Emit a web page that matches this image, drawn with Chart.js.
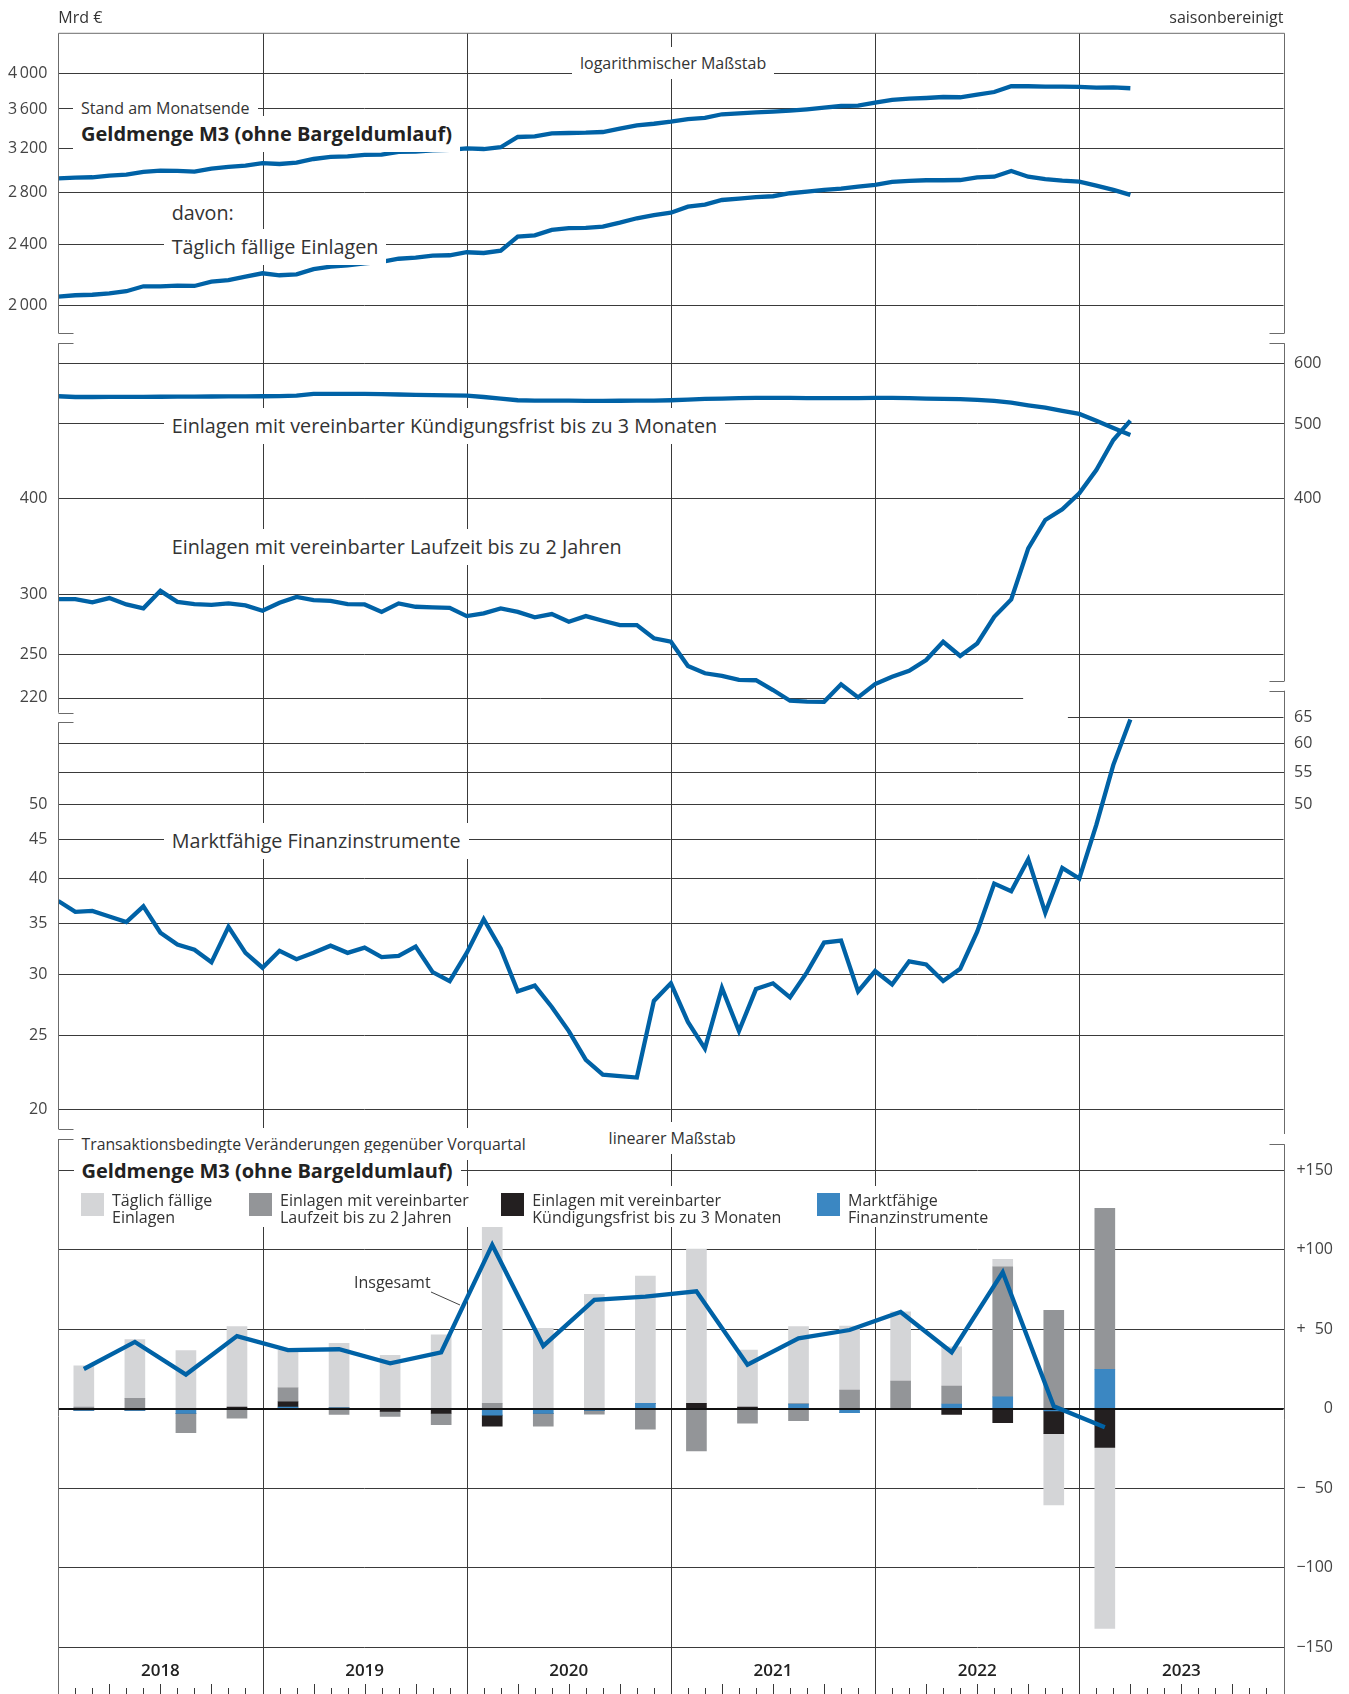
<!DOCTYPE html>
<html lang="de">
<head>
<meta charset="utf-8">
<title>Geldmenge M3 und Komponenten</title>
<script src="https://cdn.jsdelivr.net/npm/chart.js@4.4.1/dist/chart.umd.min.js"></script>
<style>
  html, body { margin: 0; background: #fff; }
  body { font-family: "Open Sans", "DejaVu Sans", sans-serif; color: #333; }
  #page { position: relative; width: 1349px; height: 1694px; overflow: hidden; }
  .panel { position: absolute; left: 0; }
  .note { position: absolute; font-size: 16px; line-height: 32px; padding: 0 8px;
          background: #fff; white-space: nowrap; transform: translateY(-50%); }
  .small { font-size: 15.8px; }
  .big { font-size: 19.75px; line-height: 36px; }
  .title { font-size: 20px; font-weight: bold; line-height: 36px; color: #222; }
  .plain { background: none; padding: 0; }
  .key { position: absolute; top: 1185.75px; display: flex; background: #fff; padding: 6px 8px 0 0;
         font-size: 16px; line-height: 17.5px; white-space: nowrap; }
  .key i { display: block; width: 23px; height: 23px; margin: 1.5px 8px 0 0; flex: none; }
</style>
</head>
<body>
<div id="page">
  <div class="panel" style="top:0px"><canvas id="c1" width="1349" height="338"></canvas></div>
  <div class="panel" style="top:338px"><canvas id="c2" width="1349" height="380"></canvas></div>
  <div class="panel" style="top:686px"><canvas id="c3" width="1349" height="448"></canvas></div>
  <div class="panel" style="top:1134px"><canvas id="c4" width="1349" height="560"></canvas></div>

  <!-- Beschriftungen -->
  <div class="note plain" style="left:58.3px;top:16.5px">Mrd €</div>
  <div class="note plain" style="right:65.5px;top:16.5px">saisonbereinigt</div>
  <div class="note" style="left:572px;top:63.3px">logarithmischer Maßstab</div>
  <div class="note" style="left:73px;top:108.3px">Stand am Monatsende</div>
  <div class="note title" style="left:73px;top:134px">Geldmenge M3 (ohne Bargeldumlauf)</div>
  <div class="note big" style="left:163.7px;top:213.3px">davon:</div>
  <div class="note big" style="left:163.7px;top:246.7px">Täglich fällige Einlagen</div>
  <div class="note big" style="left:163.7px;top:426px">Einlagen mit vereinbarter Kündigungsfrist bis zu 3 Monaten</div>
  <div class="note big" style="left:163.7px;top:546.7px">Einlagen mit vereinbarter Laufzeit bis zu 2 Jahren</div>
  <div class="note big" style="left:163.7px;top:840.7px">Marktfähige Finanzinstrumente</div>
  <div class="note small" style="left:73.5px;top:1144px">Transaktionsbedingte Veränderungen gegenüber Vorquartal</div>
  <div class="note" style="left:600.6px;top:1138.3px">linearer Maßstab</div>
  <div class="note title" style="left:73.5px;top:1170.7px">Geldmenge M3 (ohne Bargeldumlauf)</div>
  <div class="key" style="left:81px"><i style="background:#d4d5d7"></i><span>Täglich fällige<br>Einlagen</span></div>
  <div class="key" style="left:249px"><i style="background:#939598"></i><span>Einlagen mit vereinbarter<br>Laufzeit bis zu 2 Jahren</span></div>
  <div class="key" style="left:501.3px"><i style="background:#231f20"></i><span>Einlagen mit vereinbarter<br>Kündigungsfrist bis zu 3 Monaten</span></div>
  <div class="key" style="left:817px"><i style="background:#3b87c2"></i><span>Marktfähige<br>Finanzinstrumente</span></div>
  <div class="note plain" style="left:354px;top:1281.7px">Insgesamt</div>
</div>

<script>
"use strict";

// ── Data (Mrd €) ───────────────────────────────────────────────────────────
const years = ["2018", "2019", "2020", "2021", "2022", "2023"];

// month-end stocks, Dec 2017 … Mar 2023 (64 values, x = months since end 2017)
const m3 = [2925, 2931, 2934, 2948, 2957, 2981, 2993, 2990, 2984, 3011, 3026, 3038,
  3060, 3053, 3065, 3099, 3118, 3124, 3137, 3139, 3165, 3168, 3181, 3184,
  3200, 3193, 3210, 3310, 3317, 3347, 3350, 3353, 3360, 3393, 3428, 3444,
  3465, 3493, 3504, 3543, 3553, 3564, 3571, 3581, 3596, 3614, 3632, 3635,
  3668, 3698, 3712, 3720, 3731, 3728, 3757, 3787, 3853, 3853, 3848, 3848,
  3845, 3837, 3841, 3830];
const overnight = [2052, 2061, 2064, 2073, 2086, 2117, 2117, 2121, 2119, 2146, 2157, 2179,
  2201, 2188, 2194, 2228, 2245, 2254, 2268, 2277, 2299, 2306, 2320, 2323,
  2344, 2339, 2355, 2456, 2466, 2506, 2519, 2521, 2531, 2561, 2595, 2619,
  2639, 2687, 2703, 2741, 2752, 2764, 2772, 2797, 2810, 2825, 2836, 2853,
  2867, 2893, 2902, 2908, 2908, 2910, 2934, 2939, 2990, 2939, 2917, 2904,
  2896, 2861, 2825, 2783];
const notice = [543.4, 542.2, 542.2, 542.4, 542.5, 542.5, 542.6, 542.7, 542.8, 543.0, 543.2, 543.3,
  543.4, 543.6, 544.4, 547.2, 547.3, 547.3, 547.2, 546.8, 546.3, 545.8, 545.3, 544.8,
  544.5, 542.2, 539.5, 536.9, 536.3, 536.3, 536.3, 535.8, 535.8, 536.1, 536.3, 536.3,
  536.9, 537.9, 539.0, 539.5, 540.2, 540.7, 540.7, 540.7, 540.2, 540.2, 540.2, 540.2,
  540.7, 540.7, 540.2, 539.5, 539.0, 538.6, 537.4, 535.8, 533.0, 528.9, 525.1, 519.9,
  515.3, 505.0, 494.0, 483.7];
const timeDep = [295.6, 295.6, 292.7, 296.5, 290.9, 287.5, 303.0, 293.2, 291.2, 290.6, 291.8, 290.1,
  285.4, 292.3, 297.6, 294.7, 294.1, 291.2, 290.9, 284.5, 291.8, 288.9, 288.4, 288.0,
  280.9, 283.2, 287.5, 284.5, 279.8, 282.6, 276.2, 280.9, 277.0, 273.4, 273.4, 262.8,
  260.1, 241.8, 236.6, 234.7, 231.9, 231.7, 225.0, 217.9, 217.3, 217.2, 228.9, 220.1,
  229.1, 234.2, 238.4, 246.2, 260.1, 249.2, 258.8, 280.3, 295.3, 344.3, 374.8, 387.0,
  406.0, 435.4, 476.5, 505.0];
const marketable = [37.4, 36.2, 36.3, 35.7, 35.1, 36.8, 34.0, 32.8, 32.3, 31.1, 34.6, 32.0,
  30.6, 32.2, 31.4, 32.0, 32.7, 32.0, 32.5, 31.6, 31.7, 32.6, 30.2, 29.4,
  32.0, 35.4, 32.4, 28.5, 29.0, 27.2, 25.3, 23.2, 22.2, 22.1, 22.0, 27.7,
  29.2, 26.0, 24.0, 28.8, 25.3, 28.7, 29.2, 28.0, 30.2, 33.0, 33.2, 28.5,
  30.3, 29.1, 31.2, 30.9, 29.4, 30.5, 34.1, 39.4, 38.5, 42.4, 36.1, 41.3,
  40.0, 47.0, 56.3, 64.5];

// transaction-based changes vs. previous quarter, 2018 Q1 … 2023 Q1
const qOvernight = [26, 37, 36.5, 50.6, 23.5, 40.6, 33.6, 46.4, 110.6, 50.6, 72, 80,
  97, 35.9, 48.6, 40.3, 43.6, 24.7, 4.6, -44.8, -113.7];
const qTime = [1, 6.5, -12, -6, 8.8, -3.5, -3.1, -7, 3.4, -8, -2.4, -12.9,
  -26.5, -9, -7.5, 11.7, 17.4, 11.3, 81.8, 61.9, 101.2];
const qNotice = [0, 0, 0, 1, 3.4, 0, -1.7, -3, -7, 0, 0, 0,
  3.4, 1, 0, 0, 0, -3.5, -8.8, -14.3, -24.4];
const qMarket = [-1, -1, -3, 0, 1, 0.5, 0, 0, -4, -3, -1, 3.4,
  0, 0, 3, -2.5, 0, 3, 7.5, -1.3, 24.8];
const qTotal = [25, 42, 21.5, 45.7, 36.9, 37.4, 28.5, 35.5, 103, 39.5, 68.5, 70.5,
  73.8, 27.7, 44.3, 49.5, 60.8, 35.5, 85.8, 1.5, -11.7];

// tick labels
const ticksLevel = [2000, 2400, 2800, 3200, 3600, 4000];
const ticksTimeL = [220, 250, 300, 400];
const ticksNoticeR = [400, 500, 600];
const ticksMarketL = [20, 25, 30, 35, 40, 45, 50];
const ticksMarketR = [50, 55, 60, 65];
const ticksChange = [-150, -100, -50, 0, 50, 100, 150];

// ── Look ───────────────────────────────────────────────────────────────────
const BLUE = "#0062a6";
const GRID = "#3a3a3a";
const FRAME = "#6b6b6b";
const TICK_FONT = { family: "'Open Sans', sans-serif", size: 16 };
const TICK_COLOR = "#444";
const X_MAX = 72;            // six years of months
const LEFT_W = 58.3;         // label column left of the plot
const RIGHT_W = 65.5;        // label column right of the plot

// ── Helpers ────────────────────────────────────────────────────────────────
const monthly = (arr) => arr.map((v, i) => ({ x: i, y: v }));
const quarterly = (arr) => arr.map((v, k) => ({ x: 3 * k + 1.5, y: v }));
const crisp = (v) => Math.round(v) + 0.5;

function seg(ctx, x1, y1, x2, y2) {
  ctx.beginPath();
  ctx.moveTo(x1, y1);
  ctx.lineTo(x2, y2);
  ctx.stroke();
}

function thousands(v) {
  if (v < 1000) return String(v);
  return Math.floor(v / 1000) + "\u2009" + String(v % 1000).padStart(3, "0");
}

function signed(v) {
  if (v === 0) return "0";
  const s = v > 0 ? "+" : "\u2212";
  const n = Math.abs(v);
  return s + (n < 100 ? "\u2007" : "") + n;
}

function yAxis(type, position, min, max, values, opts = {}) {
  return {
    type, position, min, max,
    stacked: !!opts.stacked,
    afterBuildTicks: (s) => { s.ticks = values.map((v) => ({ value: v })); },
    afterFit: (s) => { s.width = opts.width; s.paddingTop = 0; s.paddingBottom = 0; },
    border: { display: false },
    grid: {
      drawTicks: false,
      color: (c) => (c.tick && c.tick.value === opts.skip ? "transparent" : GRID),
    },
    ticks: {
      autoSkip: false,
      padding: position === "left" ? 11 : 10.5,
      crossAlign: opts.far ? "far" : "near",
      font: TICK_FONT,
      color: TICK_COLOR,
      callback: opts.format || thousands,
    },
  };
}

function lineSet(data, yAxisID = "y") {
  return {
    type: "line", data: monthly(data), yAxisID,
    borderColor: BLUE, borderWidth: 4.3, pointRadius: 0, tension: 0, fill: false,
  };
}

function barSet(data, color) {
  return {
    type: "bar", data: quarterly(data), yAxisID: "y", order: 1,
    backgroundColor: color, borderWidth: 0, barThickness: 20,
  };
}

// ── Decoration plugin: year rules, cut gridlines, frame, time axis ──────────
const deco = {
  id: "deco",
  beforeDatasetsDraw(chart, _args, o) {
    const { ctx, chartArea: a, scales } = chart;
    const xs = scales.x;
    ctx.save();
    ctx.strokeStyle = GRID;
    ctx.lineWidth = 1;
    for (let m = 12; m < X_MAX; m += 12) {
      const px = crisp(xs.getPixelForValue(m));
      seg(ctx, px, o.lid ? a.top : 0, px, chart.height);
    }
    for (const c of o.cut || []) {
      const py = crisp(scales[c.axis].getPixelForValue(c.value));
      seg(ctx, xs.getPixelForValue(c.from), py, xs.getPixelForValue(c.to), py);
    }
    ctx.restore();
  },
  beforeDatasetDraw(chart, args, o) {
    if (!o.zero || args.meta.type !== "line") return;
    const { ctx, chartArea: a } = chart;
    const py = Math.round(chart.scales.y.getPixelForValue(0));
    ctx.save();
    ctx.strokeStyle = "#111";
    ctx.lineWidth = 2.2;
    seg(ctx, a.left, py, a.right, py);
    ctx.restore();
  },
  afterDraw(chart, _args, o) {
    const { ctx, chartArea: a, scales } = chart;
    const xs = scales.x;
    const t = o.top;
    const L = crisp(a.left), R = crisp(a.right);
    ctx.save();
    ctx.strokeStyle = FRAME;
    ctx.lineWidth = 1;
    const f = o.frame;
    seg(ctx, L, f.left[0] - t, L, f.left[1] - t);
    seg(ctx, R, f.right[0] - t, R, f.right[1] - t);
    if (f.lid) {
      seg(ctx, L, f.left[0] - t, R, f.left[0] - t);
    } else {
      seg(ctx, L, crisp(f.left[0] - t), L + 15, crisp(f.left[0] - t));
      seg(ctx, R - 15, crisp(f.right[0] - t), R, crisp(f.right[0] - t));
    }
    if (f.caps) {
      seg(ctx, L, crisp(f.left[1] - t), L + 15, crisp(f.left[1] - t));
      seg(ctx, R - 15, crisp(f.right[1] - t), R, crisp(f.right[1] - t));
    }
    if (o.leader) {
      ctx.strokeStyle = "#444";
      const [x1, y1, x2, y2] = o.leader;
      seg(ctx, x1, y1 - t, x2, y2 - t);
    }
    if (o.timeAxis) {
      ctx.strokeStyle = GRID;
      for (let m = 1; m < X_MAX; m++) {
        if (m % 12 === 0) continue;
        const px = crisp(xs.getPixelForValue(m));
        seg(ctx, px, chart.height - (m % 3 === 0 ? 10 : 6), px, chart.height);
      }
      ctx.fillStyle = "#222";
      ctx.font = "600 17px 'Open Sans', sans-serif";
      ctx.textAlign = "center";
      ctx.textBaseline = "middle";
      years.forEach((y, i) => ctx.fillText(y, xs.getPixelForValue(12 * i + 6), o.timeAxis - t));
    }
    ctx.restore();
  },
};

function options(padding, scales, decoOpts) {
  return {
    responsive: false,
    animation: false,
    layout: { padding },
    plugins: { legend: { display: false }, tooltip: { enabled: false }, deco: decoOpts },
    scales: {
      x: {
        type: "linear", min: 0, max: X_MAX, display: false, stacked: true,
        offset: false, grid: { offset: false },
      },
      ...scales,
    },
  };
}

// ── Panel 1: M3 and overnight deposits (log) ───────────────────────────────
new Chart(document.getElementById("c1"), {
  type: "line",
  data: { datasets: [lineSet(m3), lineSet(overnight)] },
  options: options(
    { top: 33.3, bottom: 4.7, left: 0, right: RIGHT_W },
    { y: yAxis("logarithmic", "left", 1839, 4515, ticksLevel, { width: LEFT_W }) },
    { top: 0, lid: true, frame: { left: [33.3, 333.3], right: [33.3, 333.3], lid: true, caps: true } }
  ),
  plugins: [deco],
});

// ── Panel 2: notice and time deposits (log) ────────────────────────────────
new Chart(document.getElementById("c2"), {
  type: "line",
  data: { datasets: [lineSet(notice), lineSet(timeDep)] },
  options: options(
    { top: 5.3, bottom: 5.3, left: 0, right: 0 },
    {
      y: yAxis("logarithmic", "left", 210.2, 637, ticksTimeL, { width: LEFT_W, skip: 220 }),
      y2: yAxis("logarithmic", "right", 210.2, 637, ticksNoticeR, { width: RIGHT_W }),
    },
    {
      top: 338,
      cut: [{ axis: "y", value: 220, from: 0, to: 56.7 }],
      frame: { left: [343.3, 712.7], right: [343.3, 681], caps: true },
    }
  ),
  plugins: [deco],
});

// ── Panel 3: marketable instruments (log) ──────────────────────────────────
new Chart(document.getElementById("c3"), {
  type: "line",
  data: { datasets: [lineSet(marketable)] },
  options: options(
    { top: 4.7, bottom: 5, left: 0, right: 0 },
    {
      y: yAxis("logarithmic", "left", 18.85, 70.34, ticksMarketL, { width: LEFT_W }),
      y2: yAxis("logarithmic", "right", 18.85, 70.34, ticksMarketR, { width: RIGHT_W, skip: 65 }),
    },
    {
      top: 686,
      cut: [{ axis: "y2", value: 65, from: 59.33, to: X_MAX }],
      frame: { left: [722.3, 1129], right: [690.7, 1135], caps: true },
    }
  ),
  plugins: [deco],
});

// ── Panel 4: quarterly changes (linear, stacked) ───────────────────────────
const yChange = yAxis("linear", "right", -150, 169.6, ticksChange,
  { width: 49.5, far: true, stacked: true, format: signed });
new Chart(document.getElementById("c4"), {
  type: "bar",
  data: {
    datasets: [
      barSet(qMarket, "#3b87c2"),
      barSet(qNotice, "#231f20"),
      barSet(qTime, "#939598"),
      barSet(qOvernight, "#d4d5d7"),
      {
        type: "line", data: quarterly(qTotal), yAxisID: "yl", order: 0,
        borderColor: BLUE, borderWidth: 4.3, pointRadius: 0, tension: 0, fill: false,
      },
    ],
  },
  options: options(
    { top: 5, bottom: 46.7, left: LEFT_W, right: 16 },
    {
      y: yChange,
      yl: { type: "linear", min: -150, max: 169.6, display: false },
    },
    {
      top: 1134,
      zero: true,
      leader: [431, 1292, 460, 1305],
      timeAxis: 1670.7,
      frame: { left: [1139, 1694], right: [1144.3, 1694], caps: false },
    }
  ),
  plugins: [deco],
});
</script>
</body>
</html>
